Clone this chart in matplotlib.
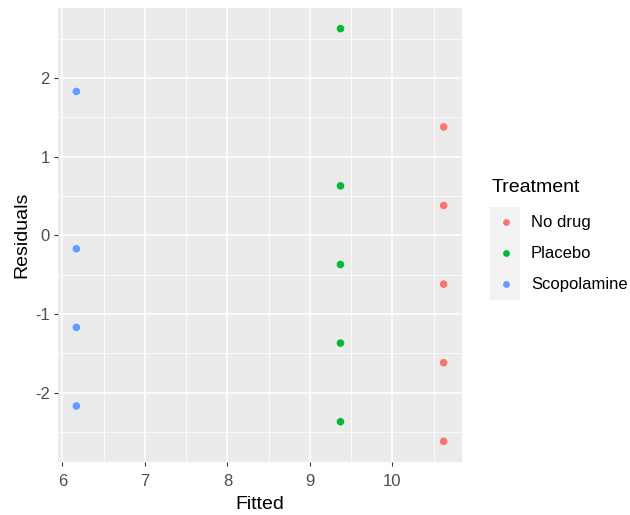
import matplotlib
matplotlib.use("Agg")
from matplotlib import pyplot as plt
import numpy as np

plt.rcParams['font.family'] = ['Liberation Sans', 'DejaVu Sans']
plt.rcParams['axes.unicode_minus'] = False

# data
groups = ["No drug", "Placebo", "Scopolamine"]
colors = ["#F8766D", "#00BA38", "#619CFF"]
fitted_nodrug = [10.62, 10.62, 10.62, 10.62, 10.62]
resid_nodrug = [1.38, 0.38, -0.62, -1.62, -2.62]
fitted_placebo = [9.37, 9.37, 9.37, 9.37, 9.37]
resid_placebo = [2.63, 0.63, -0.37, -1.37, -2.37]
fitted_scop = [6.17, 6.17, 6.17, 6.17]
resid_scop = [1.83, -0.17, -1.17, -2.17]

x_ticks = [6, 7, 8, 9, 10]
y_ticks = [-2, -1, 0, 1, 2]

W, H = 630, 515
fig = plt.figure(figsize=(W / 100, H / 100), dpi=100)

# panel
left, right, top, bottom = 58, 462, 8, 462
ax = fig.add_axes([left / W, 1 - bottom / H, (right - left) / W, (bottom - top) / H])
ax.set_facecolor("#EBEBEB")
for s in ax.spines.values():
    s.set_visible(False)

xs = [fitted_nodrug, fitted_placebo, fitted_scop]
ys = [resid_nodrug, resid_placebo, resid_scop]
for fx, ry, c in zip(xs, ys, colors):
    ax.scatter(fx, ry, s=30, color=c, edgecolors="none", zorder=3)

ax.set_xticks(x_ticks)
ax.set_yticks(y_ticks)
ax.set_xticks([t + 0.5 for t in x_ticks[:-1]] + [5.5, 10.5], minor=True)
ax.set_yticks([t + 0.5 for t in y_ticks[:-1]] + [-2.5, 2.5], minor=True)

# ggplot style 5% expansion, set after ticks so they don't widen it
allx = np.concatenate([np.array(v) for v in xs])
ally = np.concatenate([np.array(v) for v in ys])
xr = allx.max() - allx.min()
yr = ally.max() - ally.min()
ax.set_xlim(allx.min() - 0.05 * xr, allx.max() + 0.05 * xr)
ax.set_ylim(ally.min() - 0.05 * yr, ally.max() + 0.05 * yr)

ax.grid(which="major", color="white", linewidth=1.1)
ax.grid(which="minor", color="white", linewidth=0.55)
ax.set_axisbelow(True)
ax.tick_params(which="major", length=3, width=0.8, color="#333333",
               labelcolor="#4D4D4D", labelsize=12, pad=3)
ax.tick_params(axis="x", which="major", pad=6)
ax.tick_params(which="minor", length=0)

ax.set_xlabel("Fitted", fontsize=14, color="black", labelpad=5)
ax.set_ylabel("Residuals", fontsize=14, color="black", labelpad=3)

# legend
fig.text(492 / W, 1 - 188 / H, "Treatment", fontsize=14, va="center", ha="left")
key_top, key_h = 207, 31
lax = fig.add_axes([490 / W, 1 - (key_top + 3 * key_h) / H, 30 / W, 3 * key_h / H])
lax.set_facecolor("#F2F2F2")
lax.set_xlim(0, 1)
lax.set_ylim(0, 3)
for s in lax.spines.values():
    s.set_visible(False)
lax.set_xticks([])
lax.set_yticks([])
for i, (g, c) in enumerate(zip(groups, colors)):
    yk = 2.5 - i
    lax.scatter([0.55], [yk], s=24, color=c, edgecolors="none")
    fig.text(531 / W, 1 - (key_top + key_h * (i + 0.5)) / H, g,
             fontsize=12, va="center", ha="left", color="black")

fig.savefig("out.png", dpi=100)
